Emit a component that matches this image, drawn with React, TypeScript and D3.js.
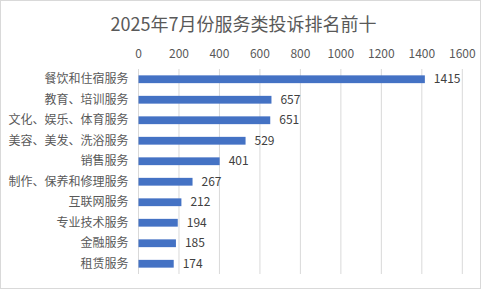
import React from "react";
import * as d3 from "d3";

const categories = [
  "餐饮和住宿服务",
  "教育、培训服务",
  "文化、娱乐、体育服务",
  "美容、美发、洗浴服务",
  "销售服务",
  "制作、保养和修理服务",
  "互联网服务",
  "专业技术服务",
  "金融服务",
  "租赁服务",
];
const values = [1415, 657, 651, 529, 401, 267, 212, 194, 185, 174];
const ticks = [0, 200, 400, 600, 800, 1000, 1200, 1400, 1600];
const title = "2025年7月份服务类投诉排名前十";

const W = 481;
const H = 289;
const FONT = "'Noto Sans CJK SC', 'Noto Sans', sans-serif";

export default function App() {
  const x = d3.scaleLinear().domain([0, 1600]).range([138.5, 462.3]);
  const y = d3
    .scaleBand<string>()
    .domain(categories)
    .range([69, 274])
    .paddingInner(0.62)
    .paddingOuter(0.31);
  const gridTop = 69;
  const gridBottom = 274;
  return (
    <svg
      width={W}
      height={H}
      style={{ position: "absolute", left: 0, top: 0, background: "#fff" }}
      fontFamily={FONT}
    >
      <rect x={0.5} y={0.5} width={W - 1} height={H - 1} fill="#fff" stroke="#d9d9d9" />
      <text x={(108 + 379) / 2} y={31} textAnchor="middle" fontSize={18} fill="#595959">
        {title}
      </text>
      {ticks.map((t) => (
        <g key={t}>
          <line x1={x(t)} x2={x(t)} y1={gridTop} y2={gridBottom} stroke="#d9d9d9" strokeWidth={1} />
          <text x={x(t)} y={58} textAnchor="middle" fontSize={12} fill="#595959">
            {t}
          </text>
        </g>
      ))}
      {categories.map((c, i) => {
        const yc = (y(c) as number) + y.bandwidth() / 2;
        return (
          <g key={c}>
            <rect
              x={x(0)}
              y={y(c) as number}
              width={x(values[i]) - x(0)}
              height={y.bandwidth()}
              fill="#4472C4"
            />
            <text x={128.5} y={yc} dy="0.35em" textAnchor="end" fontSize={12} fill="#595959">
              {c}
            </text>
            <text x={x(values[i]) + 9} y={yc} dy="0.35em" textAnchor="start" fontSize={12} fill="#404040">
              {values[i]}
            </text>
          </g>
        );
      })}
    </svg>
  );
}
